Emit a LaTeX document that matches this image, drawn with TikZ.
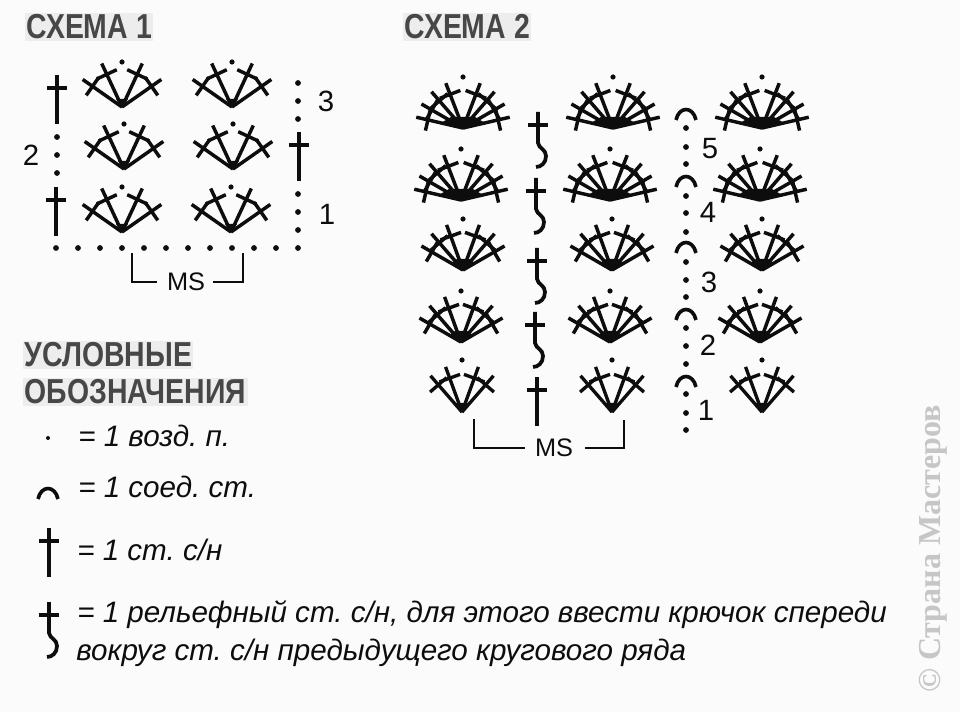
\documentclass[tikz,border=0pt]{standalone}
\usepackage{fontspec}
\setmainfont{Liberation Sans}
\newfontfamily\headfont[FakeStretch=0.82]{Liberation Sans}
\newfontfamily\markfont{Liberation Serif}
\definecolor{paper}{gray}{0.985}
\definecolor{halo}{gray}{0.93}
\definecolor{ink}{gray}{0.05}

% петли и столбики
\newcommand{\fanarm}[1]{
  \foreach \t in {180+#1, -#1} {
    \draw (0,0) -- (\t:48);
    \draw ([shift={(\t:36)}]\t+90:11) -- ([shift={(\t:36)}]\t-90:11);
  }
}
\tikzset{
  chainst/.pic={\fill[ink] (0,0) circle (2.9);},
  hookst/.pic={\draw[ink, line width=2.7pt] (-10,5) .. controls (-7,-9) and (7,-9) .. (10,5);},
  crossst/.pic={
    \draw[ink, line width=2.9pt] (0,0) -- (0,49);
    \draw[ink, line width=2.9pt] (-10,13) -- (10,13);
  },
  reliefst/.pic={
    \draw[ink, line width=2.8pt] (0,0) -- (0,31) .. controls (1,37) and (8,37) .. (8,44) .. controls (8,51) and (3,55) .. (-2,55);
    \draw[ink, line width=2.8pt] (-10,13) -- (10,13);
  },
  fanA/.pic={
    \begin{scope}[ink, line width=2.6pt]
      \fanarm{35} \fanarm{65}
      \fill (0,1) -- (-6,-8) -- (6,-8) -- cycle;
      \fill (0,-45) circle (2.6);
    \end{scope}
  },
  fanB/.pic={
    \begin{scope}[ink, line width=2.5pt]
      \fanarm{49} \fanarm{70}
      \fill (0,1) -- (-6,-9) -- (6,-9) -- cycle;
      \fill (0,-52) circle (2.6);
    \end{scope}
  },
  fanC/.pic={
    \begin{scope}[ink, line width=2.6pt]
      \fanarm{30} \fanarm{49} \fanarm{70}
      \fill (0,1) -- (-12,-7) -- (-6,-11) -- (6,-11) -- (12,-7) -- cycle;
      \fill (0,-51) circle (2.6);
    \end{scope}
  },
  fanD/.pic={
    \begin{scope}[ink, line width=2.6pt]
      \fanarm{13} \fanarm{30} \fanarm{49} \fanarm{69}
      \fill (0,1) -- (-22,-5) -- (-12,-11) -- (12,-11) -- (22,-5) -- cycle;
      \fill (0,-51) circle (2.6);
    \end{scope}
  },
  numlabel/.style={inner sep=0, text=ink, font=\fontsize{22}{22}\selectfont},
  mslabel/.style={inner sep=0, text=ink, font=\fontsize{19}{19}\selectfont},
  headlabel/.style={anchor=base west, inner sep=1pt, fill=halo, text=black!72,
    font=\headfont\bfseries\fontsize{26}{26}\selectfont},
  legendlabel/.style={anchor=base west, inner sep=0, text=ink,
    font=\frenchspacing\itshape\fontsize{22.2}{22.2}\selectfont},
  marklabel/.style={rotate=90, anchor=base west, inner sep=0, text=gray!45,
    font=\markfont\bfseries\fontsize{24}{24}\selectfont},
  bracket/.style={ink, line width=1.5pt},
}

\begin{document}
\begin{tikzpicture}[x=.75pt, y=-.75pt]
  \fill[paper] (0,0) rectangle (960,712);
  \useasboundingbox (0,0) rectangle (960,712);

  % заголовки
  \node[headlabel] (head1) at (25,39) {СХЕМА 1};
  \node[headlabel] (head2) at (403,39) {СХЕМА 2};
  \node[headlabel] (legend1) at (23,367) {УСЛОВНЫЕ};
  \node[headlabel] (legend2) at (23,404) {ОБОЗНАЧЕНИЯ};

  % схема 1
  \foreach \x/\y in {122/107, 232/107, 124/169, 233/169, 122/232, 231/232}
    \pic at (\x,\y) {fanA};
  \foreach \x/\y in {57/75, 56/187, 299/132}
    \pic at (\x,\y) {crossst};
  \foreach \x/\y in {57/137, 57/155, 57/173, 298/83, 298/101, 298/119, 298/194, 298/212, 298/230}
    \pic at (\x,\y) {chainst};
  \foreach \x in {56,78,...,298}
    \pic at (\x,248) {chainst};
  \node[numlabel] (n13) at (326,101) {3};
  \node[numlabel] (n12) at (31,155) {2};
  \node[numlabel] (n11) at (327,214) {1};
  \node[mslabel] (ms1) at (186,282) {MS};
  \draw[bracket] (132,253) -- (132,282) -- ([xshift=-7.5pt]ms1.west);
  \draw[bracket] ([xshift=6pt]ms1.east) -- (243,282) -- (243,253);

  % схема 2
  \foreach \x/\y in {463/128, 613/128, 762/128, 461/200, 610/200, 760/200}
    \pic at (\x,\y) {fanD};
  \foreach \x/\y in {463/270, 612/270, 762/270, 461/342, 610/342, 760/342}
    \pic at (\x,\y) {fanC};
  \foreach \x in {462,612,762}
    \pic at (\x,412) {fanB};
  \foreach \x/\y in {538/112, 536/178, 537/248, 535/312}
    \pic at (\x,\y) {reliefst};
  \pic at (537,377) {crossst};
  \foreach \y in {115,182,248,315,382}
    \pic at (686,\y) {hookst};
  \foreach \y in {128,147,164,196,213,232,262,280,297,328,346,364,394,413,430}
    \pic at (686,\y) {chainst};
  \node[numlabel] (n25) at (710,149) {5};
  \node[numlabel] (n24) at (708,212) {4};
  \node[numlabel] (n23) at (709,282) {3};
  \node[numlabel] (n22) at (708,345) {2};
  \node[numlabel] (n21) at (706,410) {1};
  \node[mslabel] (ms2) at (554,448) {MS};
  \draw[bracket] (474,419) -- (474,448) -- ([xshift=-7.5pt]ms2.west);
  \draw[bracket] ([xshift=9pt]ms2.east) -- (624,448) -- (624,420);

  % условные обозначения
  \fill[ink] (48,438) circle (2);
  \pic at (48,494) {hookst};
  \pic at (49,528) {crossst};
  \pic at (49,602) {reliefst};
  \node[legendlabel] (txt1) at (78,447) {= 1 возд. п.};
  \node[legendlabel] (txt2) at (78,498) {= 1 соед. ст.};
  \node[legendlabel] (txt3) at (77,560) {= 1 ст. с/н};
  \node[legendlabel] (txt4) at (77,622) {= 1 рельефный ст. с/н, для этого ввести крючок спереди};
  \node[legendlabel] (txt5) at (76,660) {вокруг ст. с/н предыдущего кругового ряда};

  % подпись справа
  \node[marklabel] (mark) at (940,693) {© Страна Мастеров};
\end{tikzpicture}
\end{document}
